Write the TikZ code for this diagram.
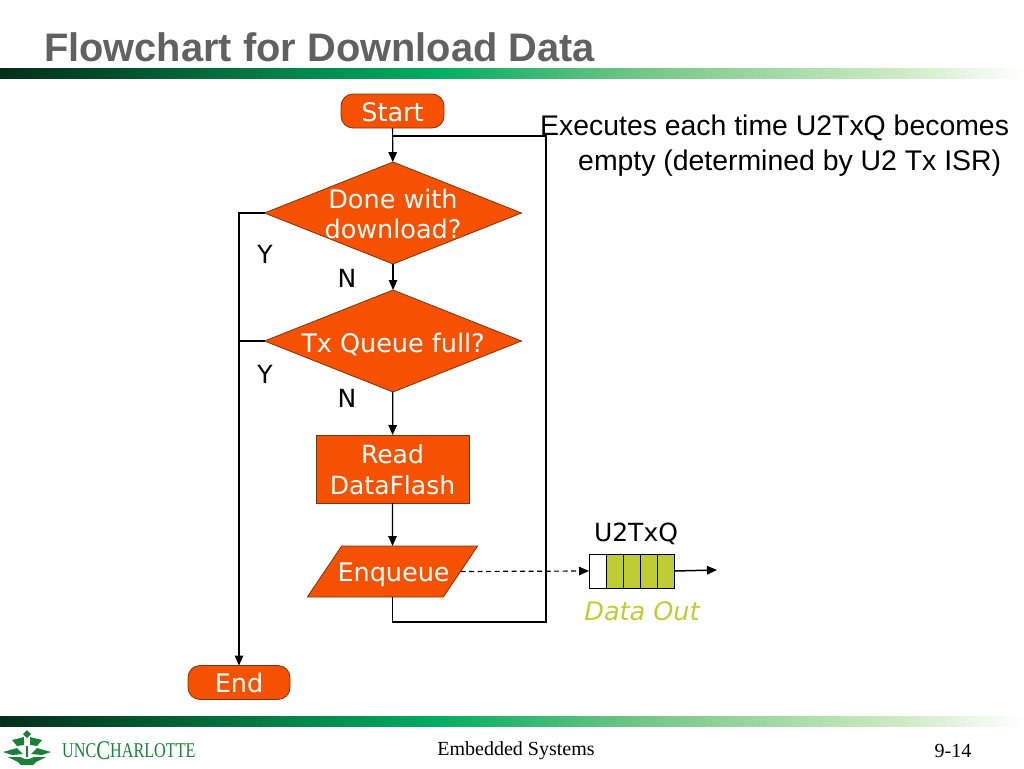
\documentclass[tikz,border=0pt]{standalone}
\usepackage{fontspec}
\setmainfont{Liberation Serif}
\setsansfont{DejaVu Sans}
\newfontfamily\headfont{Liberation Sans}
\usetikzlibrary{arrows.meta,shapes.geometric}
\definecolor{flame}{HTML}{F55100}
\definecolor{flameedge}{HTML}{7A3410}
\definecolor{olive}{HTML}{C0CC33}
\definecolor{barA}{HTML}{002E18}
\definecolor{barB}{HTML}{00AC60}
\definecolor{barC}{HTML}{7CC88C}
\definecolor{barD}{HTML}{CDEBC4}
\definecolor{crest}{HTML}{1C7F3C}

\begin{document}
\begin{tikzpicture}[
  x=1pt, y=-1pt,
  >={Triangle[length=10pt,width=8.5pt]},
  terminal/.style={rectangle, rounded corners=12pt, minimum height=34pt, fill=flame, draw=flameedge, line width=0.8pt, text=white, font=\sffamily\fontsize{25.5}{30}\selectfont, inner sep=0pt, outer sep=0pt, text height=22pt, text depth=2pt},
  decision/.style={diamond, aspect=2.5, fill=flame, draw=flameedge, line width=0.8pt, text=white, font=\sffamily\fontsize{25.5}{30.5}\selectfont, align=center, inner sep=-4pt, outer sep=0pt, minimum width=257pt, minimum height=102pt},
  process/.style={rectangle, fill=flame, draw=flameedge, line width=0.8pt, text=white, font=\sffamily\fontsize{25}{31}\selectfont, align=center, inner sep=0pt, outer sep=0pt, minimum width=153pt, minimum height=68pt, text height=51.5pt},
  output/.style={trapezium, trapezium left angle=56, trapezium right angle=124, fill=flame, draw=flameedge, line width=0.8pt, text=white, font=\sffamily\fontsize{25.5}{30}\selectfont, inner xsep=-4.2pt, inner ysep=15.5pt, outer sep=0pt, text width=110pt, align=center, text height=20pt, text depth=0pt},
  tag/.style={font=\sffamily\fontsize{25}{30}\selectfont, inner sep=0pt},
  slot/.style={rectangle, draw=black, line width=0.9pt, minimum width=17pt, minimum height=34pt, inner sep=0pt, outer sep=0pt},
  flow/.style={line width=1.2pt, black}
]
  \useasboundingbox (0,0) rectangle (1024,768);

  \foreach \bary in {68,716} {
    \shade[left color=barA, right color=barB, draw=none] (0,\bary) rectangle (430,\bary+10);
    \shade[left color=barB, right color=barC, draw=none] (430,\bary) rectangle (660,\bary+10);
    \shade[left color=barC, right color=barD, draw=none] (660,\bary) rectangle (900,\bary+10);
    \shade[left color=barD, right color=white, draw=none] (900,\bary) rectangle (1024,\bary+10);
  }

  \node[anchor=base west, inner sep=0pt, text=black!62, font=\headfont\bfseries\fontsize{39.8}{44}\selectfont] (title) at (44,61) {Flowchart for Download Data};

  \node[terminal, minimum width=103pt] (start) at (392.5,111) {Start};
  \node[decision, text height=52pt] (done) at (393,213) {Done with\\download?};
  \node[decision, text height=22pt, text depth=0pt] (full) at (393,341) {Tx Queue full?};
  \node[process] (read) at (392.5,469) {Read\\DataFlash};
  \node[output] (enq) at (392.5,571.5) {Enqueue};
  \node[terminal, minimum width=102pt] (end) at (239,682.5) {End};

  \coordinate (loopin) at (393,136);
  \coordinate (loopright) at (546,136);
  \coordinate (loopbot) at (546,622);
  \coordinate (outend) at (717,570);
  \coordinate (leftbus) at (239,341);

  \draw[flow,->] (start) -- (done);
  \draw[flow,->] (done) -- (full);
  \draw[flow,->] (full) -- (read);
  \draw[flow,->] (read) -- (enq);
  \draw[flow] (enq.south) |- (loopbot) -- (loopright) -- (loopin);
  \draw[flow,->] (done.west) -| (end.north);
  \draw[flow] (full.west) -- (leftbus);

  \node[tag] (yone) at (265,254) {Y};
  \node[tag] (ytwo) at (265,374) {Y};
  \node[tag] (none) at (347,278) {N};
  \node[tag] (ntwo) at (347,398) {N};

  \node[slot, fill=white] (q1) at (597.5,571) {};
  \foreach \i/\prev in {2/1,3/2,4/3,5/4} {
    \node[slot, fill=olive, anchor=west] (q\i) at (q\prev.east) {};
  }
  \draw[line width=1.2pt, dash pattern=on 5pt off 3.5pt, ->] (enq.east) -- (q1.west);
  \draw[flow, line width=1.5pt, ->] (q5.east) -- (outend);

  \node[tag] (qname) at (636,534) {U2TxQ};
  \node[tag, text=olive, font=\sffamily\itshape\fontsize{25.5}{30}\selectfont] (dataout) at (642,611) {Data Out};

  \node[anchor=base west, inner sep=0pt, align=left, font=\headfont\fontsize{28.4}{35}\selectfont] (note) at (540,170) {Executes each time U2TxQ becomes\\\hspace*{38pt}empty (determined by U2 Tx ISR)};

  \fill[crest] (27,730) -- (31,734) -- (27,738) -- (23,734) -- cycle;
  \fill[crest] (12,740) -- (24,737) -- (24,745) -- (17,746) -- cycle;
  \fill[crest] (42,740) -- (30,737) -- (30,745) -- (37,746) -- cycle;
  \fill[crest] (3,752) -- (17,748) -- (23,754) -- (12,755) -- cycle;
  \fill[crest] (51,752) -- (37,748) -- (31,754) -- (42,755) -- cycle;
  \fill[crest] (26,746) -- (28,746) -- (28,757) -- (26,757) -- cycle;
  \fill[crest] (8,757) -- (20,757) -- (25,759) -- (29,759) -- (34,757) -- (46,757) -- (36,762) -- (33,765) -- (21,765) -- (18,762) -- cycle;
  \node[anchor=base west, inner sep=0pt, text=crest, font=\rmfamily\fontsize{21}{22}\selectfont] (logo) at (62,757) {\scalebox{0.77}[1]{UNC\raisebox{-2pt}{\fontsize{27}{27}\selectfont C}HARLOTTE}};

  \node[inner sep=0pt, font=\rmfamily\fontsize{20}{22}\selectfont] (footer) at (516,751) {Embedded Systems};
  \node[inner sep=0pt, font=\rmfamily\fontsize{20}{22}\selectfont] (page) at (953,751) {9-14};
\end{tikzpicture}
\end{document}
